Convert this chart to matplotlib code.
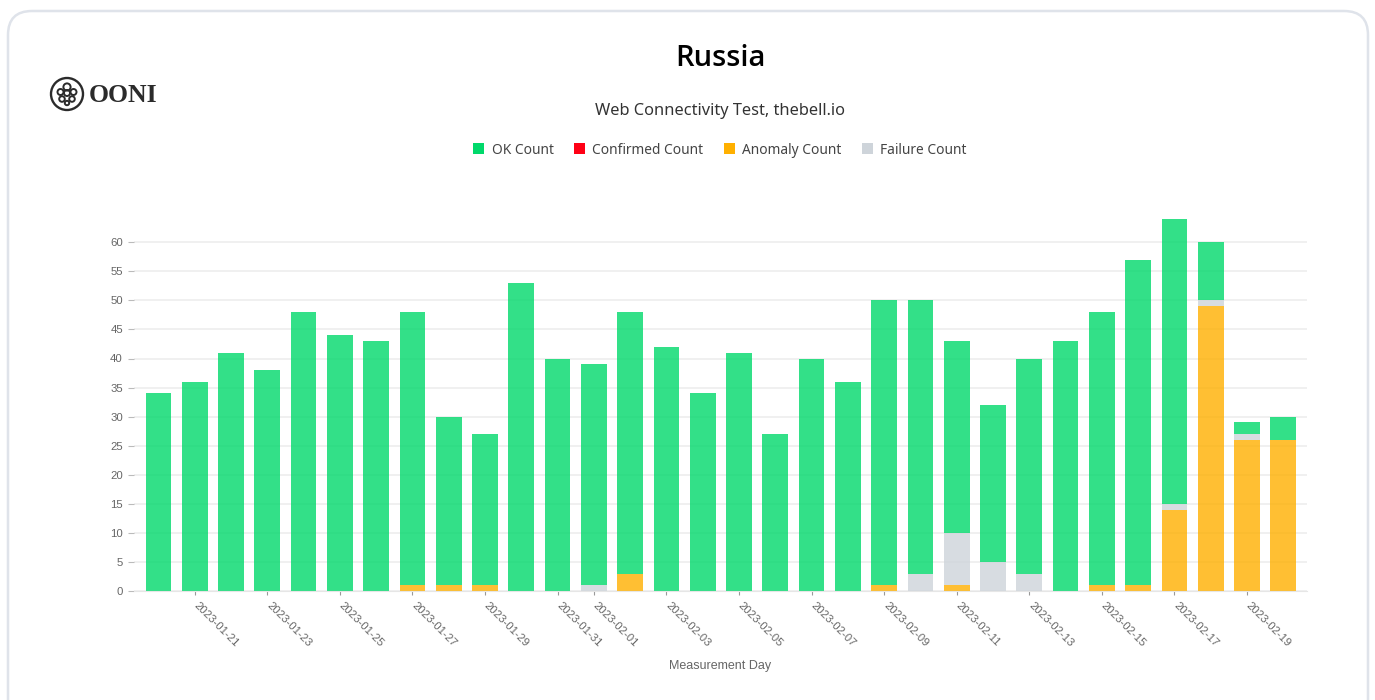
"""OONI web connectivity bars for thebell.io in Russia."""

import numpy as np
import matplotlib
matplotlib.use("Agg")
import matplotlib.pyplot as plt
from matplotlib.patches import Circle, FancyBboxPatch, Patch
from matplotlib.transforms import ScaledTranslation

days = ["01-20", "01-21", "01-22", "01-23", "01-24", "01-25", "01-26", "01-27",
        "01-28", "01-29", "01-30", "01-31", "02-01", "02-02", "02-03", "02-04",
        "02-05", "02-06", "02-07", "02-08", "02-09", "02-10", "02-11", "02-12",
        "02-13", "02-14", "02-15", "02-16", "02-17", "02-18", "02-19", "02-20"]
total = [34, 36, 41, 38, 48, 44, 43, 48, 30, 27, 53, 40, 39, 48, 42, 34,
         41, 27, 40, 36, 50, 50, 43, 32, 40, 43, 48, 57, 64, 60, 29, 30]
anomaly = [0, 0, 0, 0, 0, 0, 0, 1, 1, 1, 0, 0, 0, 3, 0, 0,
           0, 0, 0, 0, 1, 0, 1, 0, 0, 0, 1, 1, 14, 49, 26, 26]
failure = [0, 0, 0, 0, 0, 0, 0, 0, 0, 0, 0, 0, 1, 0, 0, 0,
           0, 0, 0, 0, 0, 3, 9, 5, 3, 0, 0, 0, 1, 1, 1, 0]
confirmed = [0] * 32
tick_days = ["01-21", "01-23", "01-25", "01-27", "01-29", "01-31", "02-01", "02-03",
             "02-05", "02-07", "02-09", "02-11", "02-13", "02-15", "02-17", "02-19"]

GREEN = "#00d96b"
RED = "#ff0015"
ORANGE = "#ffb000"
GREY = "#ced4da"
TEXT = "#666666"

fig = plt.figure(figsize=(13.75, 7), dpi=100, facecolor="white")

# full-figure layer in pixels for the card, logo and headings
bg = fig.add_axes([0, 0, 1, 1], zorder=0)
bg.set_xlim(0, 1375)
bg.set_ylim(700, 0)
bg.axis("off")
bg.add_patch(FancyBboxPatch((8, 11), 1360, 720, boxstyle="round,pad=0,rounding_size=24",
                            fc="white", ec="#dfe3ea", lw=1.8))

# logo
bg.add_patch(Circle((67, 94), 16, fc="none", ec="#2b2b2b", lw=1.7))
for cx, cy, r in [(67, 87, 3.6), (60.5, 92, 3), (73.5, 92, 3), (62, 99, 2.8), (72, 99, 2.8),
                  (67, 93, 3), (67, 103, 2.2)]:
    bg.add_patch(Circle((cx, cy), r, fc="none", ec="#2b2b2b", lw=1.4))
bg.text(89, 96, "OONI", family="Liberation Serif", weight="bold", fontsize=18.5,
        color="#2b2b2b", va="center", ha="left")

bg.text(720, 59, "Russia", family="Open Sans", weight="semibold", fontsize=21,
        color="black", ha="center", va="center")
bg.text(720, 111, "Web Connectivity Test, thebell.io", family="Noto Sans", fontsize=11.8,
        color="#333333", ha="center", va="center")
bg.text(720.5, 666, "Measurement Day", family="Liberation Sans", fontsize=9,
        color=TEXT, ha="center", va="center")

# plot area, 134..1307 px wide and 219..591 px high
ax = fig.add_axes([134 / 1375, 1 - 591 / 700, (1307 - 134) / 1375, (591 - 219) / 700], zorder=1)
ax.patch.set_alpha(0)

x = np.arange(len(days))
anomaly = np.array(anomaly)
failure = np.array(failure)
confirmed = np.array(confirmed)
ok = np.array(total) - anomaly - failure - confirmed

ax.bar(x, anomaly, 0.71, color=ORANGE, alpha=0.8, zorder=2)
ax.bar(x, confirmed, 0.71, bottom=anomaly, color=RED, alpha=0.8, zorder=2)
ax.bar(x, failure, 0.71, bottom=anomaly + confirmed, color=GREY, alpha=0.8, zorder=2)
ax.bar(x, ok, 0.71, bottom=anomaly + confirmed + failure, color=GREEN, alpha=0.8, zorder=2)

ax.set_xlim(-0.675, 31.655)
ax.set_ylim(0, 64)
ax.set_yticks(np.arange(0, 61, 5))
ax.set_xticks([days.index(d) for d in tick_days])
ax.set_xticklabels(["2023-" + d for d in tick_days], rotation=-45, ha="left",
                   rotation_mode="anchor", family="Liberation Sans", fontsize=8.2, color=TEXT)
ax.tick_params(axis="y", length=4, width=0.8, color="#bbbbbb", labelcolor=TEXT, labelsize=8.2, pad=4)
ax.tick_params(axis="x", length=3, width=0.8, color="#999999", pad=3.5)
# nudge the rotated labels right, after tick_params since that resets the transform
shift = ScaledTranslation(4.5 / 100, 0, fig.dpi_scale_trans)
for lab in ax.get_xticklabels():
    lab.set_transform(lab.get_transform() + shift)
for lab in ax.get_yticklabels():
    lab.set_family("Liberation Sans")
ax.grid(axis="y", color="#eeeeee", lw=1.2, zorder=0)
ax.set_axisbelow(True)
for side in ["top", "right", "left"]:
    ax.spines[side].set_visible(False)
ax.spines["bottom"].set_color("#e6e6e6")

handles = [Patch(fc=GREEN, lw=0, label="OK Count"), Patch(fc=RED, lw=0, label="Confirmed Count"),
           Patch(fc=ORANGE, lw=0, label="Anomaly Count"), Patch(fc=GREY, lw=0, label="Failure Count")]
leg = fig.legend(handles=handles, loc="center", bbox_to_anchor=(720 / 1375, 1 - 150 / 700), ncol=4,
                 frameon=False, fontsize=9.9, handlelength=0.8, handleheight=0.8,
                 handletextpad=0.53, columnspacing=1.5, borderpad=0)
for t in leg.get_texts():
    t.set_family("Noto Sans")
    t.set_color("#444444")

fig.savefig("out.png", dpi=100)
